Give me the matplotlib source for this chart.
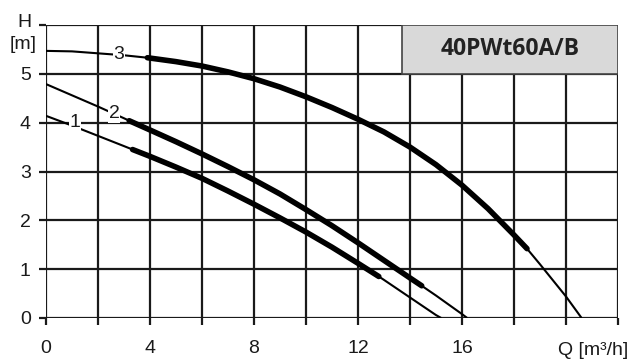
"""Pump curve chart 40PWt60A/B - head H over flow Q for three speeds."""

import matplotlib.pyplot as plt
import numpy as np
from matplotlib.patches import Rectangle

# speed 1
q1 = [0, 1, 2, 3, 3.33, 4, 5, 6, 7, 8, 9, 10, 11, 12, 12.8, 13, 14, 15, 15.2]
h1 = [4.14, 3.94, 3.73, 3.52, 3.45, 3.31, 3.09, 2.86, 2.6, 2.33, 2.05, 1.76, 1.45, 1.12,
      0.85, 0.78, 0.42, 0.06, 0.0]
# speed 2
q2 = [0, 1, 2, 3, 3.2, 4, 5, 6, 7, 8, 9, 10, 11, 12, 13, 14, 14.45, 15, 16, 16.2]
h2 = [4.79, 4.56, 4.33, 4.09, 4.04, 3.85, 3.61, 3.36, 3.1, 2.83, 2.54, 2.22, 1.89, 1.54,
      1.18, 0.82, 0.66, 0.46, 0.08, 0.0]
# speed 3
q3 = [0, 1, 2, 3, 3.9, 5, 6, 7, 8, 9, 10, 11, 12, 13, 14, 15, 16, 17, 18, 18.5, 19, 20, 20.6]
h3 = [5.47, 5.46, 5.42, 5.38, 5.33, 5.25, 5.16, 5.04, 4.9, 4.73, 4.53, 4.31, 4.07, 3.81,
      3.5, 3.14, 2.72, 2.24, 1.7, 1.42, 1.1, 0.44, 0.0]

# operating range (thick part) per curve
ranges = [(3.33, 12.8), (3.2, 14.45), (3.9, 18.5)]
labels = ["1", "2", "3"]
label_pos = [(1.12, 4.0), (2.62, 4.19), (2.8, 5.4)]

x_ticks = np.arange(0, 23, 2)
x_labels = ["0", "", "4", "", "8", "", "12", "", "16", "", "", ""]
y_ticks = np.arange(0, 7, 1)
y_labels = ["0", "1", "2", "3", "4", "5", ""]

INK = "#1a1a1a"

plt.rcParams["font.family"] = ["Liberation Sans", "DejaVu Sans"]

fig = plt.figure(figsize=(6.3, 3.6), dpi=100)
ax = fig.add_axes([46 / 630, 1 - 318 / 360, 572 / 630, 293 / 360])
ax.set_xlim(0, 22)
ax.set_ylim(0, 6)

ax.set_xticks(x_ticks)
ax.set_xticklabels(x_labels)
ax.set_yticks(y_ticks)
ax.set_yticklabels(y_labels)
ax.tick_params(length=5, width=1.6, color=INK, labelsize=14, labelcolor=INK, pad=6)
ax.tick_params(axis="x", pad=11)
ax.grid(True, color=INK, linewidth=1.6, zorder=1)
ax.set_axisbelow(True)
for s in ax.spines.values():
    s.set_visible(False)

for (q, h), (lo, hi) in zip([(q1, h1), (q2, h2), (q3, h3)], ranges):
    q = np.array(q)
    h = np.array(h)
    ax.plot(q, h, color="black", linewidth=1.5, zorder=3, solid_capstyle="butt")
    m = (q >= lo) & (q <= hi)
    ax.plot(q[m], h[m], color="black", linewidth=4.0, zorder=4,
            solid_capstyle="round", solid_joinstyle="round")

for lab, (x, y) in zip(labels, label_pos):
    ax.text(x, y, lab, fontsize=14, color=INK, ha="center", va="center", zorder=5,
            bbox=dict(facecolor="white", edgecolor="none", pad=0.5))

# title box
ax.add_patch(Rectangle((13.7, 5.0), 8.3, 1.0, facecolor="#d9d9d9", edgecolor="#444444",
                       linewidth=1.2, zorder=2))
ax.text(17.85, 5.5, "40PWt60A/B", fontsize=16.5, fontweight="bold", family="Open Sans",
        color="#222222", ha="center", va="center", zorder=6)

# axis captions
ax.text(-0.82, 6.06, "H", fontsize=14, color=INK, ha="center", va="center", clip_on=False)
ax.text(-0.35, 5.6, "[m]", fontsize=14, color=INK, ha="right", va="center", clip_on=False)
ax.text(22.4, -0.66, "Q [m³/h]", fontsize=14, color=INK, ha="right", va="center", clip_on=False)

fig.savefig("out.png", dpi=100)
